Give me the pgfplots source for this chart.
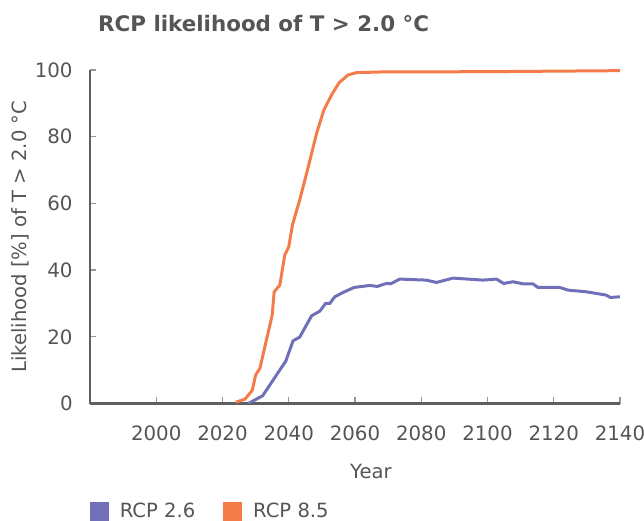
\documentclass[border=0pt]{standalone}
\usepackage{pgfplots}
\pgfplotsset{compat=1.18}
\usepackage{fontspec}
\setmainfont{DejaVu Sans}
\definecolor{txt}{RGB}{85,85,85}
\definecolor{axc}{RGB}{95,95,95}
\definecolor{tickc}{RGB}{150,150,150}
\definecolor{rcpa}{RGB}{112,112,185}
\definecolor{rcpb}{RGB}{244,123,74}
\begin{document}
\begin{tikzpicture}
\begin{axis}[
  at={(45bp,58.75bp)}, anchor=south west,
  scale only axis, width=265bp, height=166.75bp,
  xmin=1980, xmax=2140, ymin=0, ymax=100,
  axis x line*=bottom, axis y line*=left,
  x axis line style={draw=axc, line width=1.5bp},
  y axis line style={draw=axc, line width=1bp},
  xtick={1980,2000,...,2140},
  xticklabels={,2000,2020,2040,2060,2080,2100,2120,2140},
  ytick={0,20,...,100},
  tick align=inside,
  major tick length=3.2bp,
  tick style={draw=tickc, line width=0.7bp},
  /pgf/number format/assume math mode=true,
  tick label style={font=\fontsize{9.9bp}{11bp}\selectfont, text=txt},
  xticklabel style={anchor=base, yshift=-18.25bp, inner sep=0pt},
  yticklabel style={anchor=east, xshift=-8.5bp, inner sep=0pt},
  xlabel={Year},
  every axis x label/.style={at={(axis description cs:0.53,0)}, anchor=base, yshift=-37.25bp, font=\fontsize{9.8bp}{11bp}\selectfont, text=txt, inner sep=0pt},
  ylabel={Likelihood [\%] of T > 2.0 °C},
  every axis y label/.style={at={(axis description cs:0,0.5)}, xshift=-34.75bp, rotate=90, anchor=center, font=\fontsize{9.8bp}{11bp}\selectfont, text=txt, inner sep=0pt},
  title={RCP likelihood of T > 2.0 °C},
  every axis title/.style={at={(axis description cs:0,1)}, anchor=base west, xshift=3.9bp, yshift=19.15bp, font=\bfseries\fontsize{10.7bp}{13bp}\selectfont, text=txt, inner sep=0pt},
  legend columns=2,
  legend cell align=left,
  legend style={draw=none, fill=none, at={(axis description cs:0,-0.3523)}, anchor=south west, inner sep=0pt, outer sep=0pt,
    font=\fontsize{9.8bp}{11bp}\selectfont, text=txt,
    nodes={inner sep=0pt},
    /tikz/every odd column/.append style={column sep=5.65bp},
    /tikz/every even column/.append style={column sep=14bp}},
]
\addplot[rcpa, line width=1.5bp, forget plot] coordinates {
(2027.8,0) (2032.1,2.3) (2039.1,12.7) (2041.3,18.8) (2043.3,19.9) (2046.9,26.3)
(2049.4,27.7) (2051.1,30.0) (2052.4,30.0) (2053.9,32.0) (2056.4,33.3) (2059.7,34.8)
(2064.5,35.4) (2066.7,35.1) (2069.5,36.0) (2070.8,35.9) (2073.5,37.3) (2081.5,37.0)
(2084.6,36.3) (2089.6,37.6) (2098.6,37.0) (2102.7,37.3) (2104.9,36.0) (2107.7,36.5)
(2110.7,35.9) (2113.7,35.9) (2115.2,34.8) (2121.8,34.8) (2124.3,34.0) (2129.8,33.5)
(2135.8,32.5) (2137.1,31.8) (2140,32.0)
};
\addplot[rcpb, line width=1.5bp, forget plot] coordinates {
(2024.0,0.4) (2026.8,1.3) (2029.0,4.0) (2030.0,8.5) (2031.3,10.6) (2035.0,26.5)
(2035.6,33.5) (2037.3,35.5) (2038.8,44.5) (2040.0,47.0) (2041.1,53.5) (2043.3,61.0)
(2045.9,71.0) (2048.4,81.0) (2050.6,88.0) (2052.9,92.5) (2055.2,96.2) (2057.9,98.5)
(2060.4,99.2) (2067.5,99.4) (2100,99.5) (2140,99.8)
};
\addlegendimage{legend image code/.code={\fill[rcpa] (0bp,-4.425bp) rectangle (8.85bp,4.425bp);}}
\addlegendentry{RCP 2.6}
\addlegendimage{legend image code/.code={\fill[rcpb] (0bp,-4.425bp) rectangle (8.85bp,4.425bp);}}
\addlegendentry{RCP 8.5}
\end{axis}
\pgfresetboundingbox
\path[use as bounding box] (0,0) rectangle (322bp,260.5bp);
\end{tikzpicture}
\end{document}
